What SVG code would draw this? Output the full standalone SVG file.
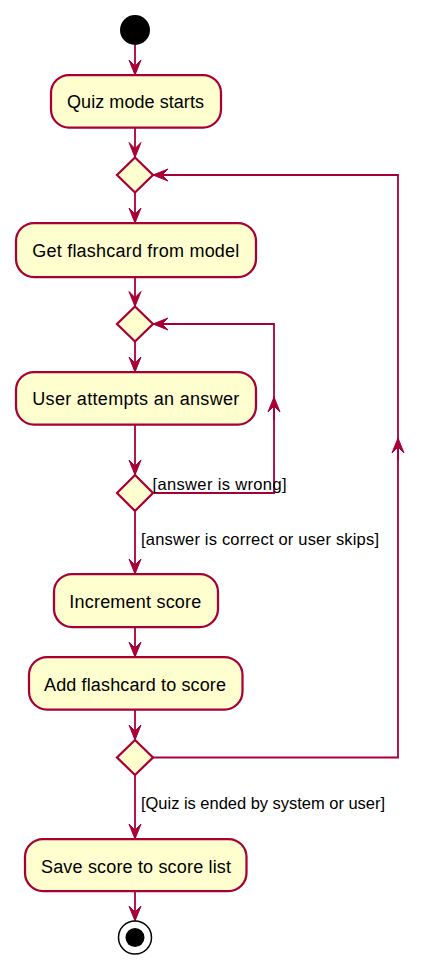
<svg xmlns="http://www.w3.org/2000/svg" width="435" height="969" viewBox="0 0 435 969">
<defs>
<style>
.node{fill:#FEFECE;stroke:#A80036;stroke-width:2.25}
.t{font-family:"Liberation Sans",Arial,sans-serif;font-size:18px;fill:#000;text-anchor:middle}
.lbl{font-family:"Liberation Sans",Arial,sans-serif;font-size:16.5px;fill:#000}
.c{fill:none;stroke:#A80036;stroke-width:1.8}
</style>
<marker id="ah" viewBox="-16 -8 17 16" markerWidth="17" markerHeight="16" refX="0" refY="0" orient="auto" markerUnits="userSpaceOnUse" overflow="visible">
<polygon points="0,0 -15,-6 -9,0 -15,6" fill="#A80036" stroke="#A80036" stroke-width="1"/>
</marker>
</defs>
<rect width="435" height="969" fill="#fff"/>
<g id="connectors">
<path class="c" d="M135,45 V75" marker-end="url(#ah)"/>
<path class="c" d="M135,128 V157.5" marker-end="url(#ah)"/>
<path class="c" d="M135,193 V223" marker-end="url(#ah)"/>
<path class="c" d="M135,277 V306.5" marker-end="url(#ah)"/>
<path class="c" d="M135,341.5 V372" marker-end="url(#ah)"/>
<path class="c" d="M135,424 V475" marker-end="url(#ah)"/>
<path class="c" d="M153,493 H274 V324 H153" marker-end="url(#ah)"/>
<path class="c" d="M274,420 V397" marker-end="url(#ah)"/>
<path class="c" d="M135,511 V574" marker-end="url(#ah)"/>
<path class="c" d="M135,627 V657" marker-end="url(#ah)"/>
<path class="c" d="M135,709 V740" marker-end="url(#ah)"/>
<path class="c" d="M153,757.5 H398 V175 H153" marker-end="url(#ah)"/>
<path class="c" d="M398,460 V438" marker-end="url(#ah)"/>
<path class="c" d="M135,775 V839" marker-end="url(#ah)"/>
<path class="c" d="M135,891 V921" marker-end="url(#ah)"/>
<text class="lbl" x="152.5" y="490" textLength="134" lengthAdjust="spacing">[answer is wrong]</text>
<text class="lbl" x="141" y="545" textLength="238" lengthAdjust="spacing">[answer is correct or user skips]</text>
<text class="lbl" x="141" y="809" textLength="244" lengthAdjust="spacing">[Quiz is ended by system or user]</text>
</g>
<g id="start"><circle cx="135" cy="30" r="15" fill="#000"/></g>
<g id="n1"><rect class="node" x="51" y="75" width="170" height="52.5" rx="18"/><text class="t" x="135.5" y="108" textLength="137" lengthAdjust="spacing">Quiz mode starts</text></g>
<g id="d1"><polygon class="node" points="135,157.5 153,175 135,192.5 117,175"/></g>
<g id="n2"><rect class="node" x="16" y="223" width="240" height="54" rx="18"/><text class="t" x="135.8" y="257" textLength="207" lengthAdjust="spacing">Get flashcard from model</text></g>
<g id="d2"><polygon class="node" points="135,306.5 153,324 135,341.5 117,324"/></g>
<g id="n3"><rect class="node" x="16" y="372" width="240" height="52.5" rx="18"/><text class="t" x="135.8" y="405" textLength="207" lengthAdjust="spacing">User attempts an answer</text></g>
<g id="d3"><polygon class="node" points="135,475 153,493 135,511 117,493"/></g>
<g id="n4"><rect class="node" x="54" y="574" width="164" height="53" rx="18"/><text class="t" x="135.3" y="608" textLength="132" lengthAdjust="spacing">Increment score</text></g>
<g id="n5"><rect class="node" x="29" y="657" width="213.5" height="52.5" rx="18"/><text class="t" x="135" y="690.5" textLength="182" lengthAdjust="spacing">Add flashcard to score</text></g>
<g id="d4"><polygon class="node" points="135,740 153,757.5 135,775 117,757.5"/></g>
<g id="n6"><rect class="node" x="25" y="839" width="221.5" height="52" rx="18"/><text class="t" x="136" y="872.5" textLength="190" lengthAdjust="spacing">Save score to score list</text></g>
<g id="end"><circle cx="135" cy="937.5" r="16.5" fill="#fff" stroke="#000" stroke-width="1.5"/><circle cx="135" cy="937.5" r="9.5" fill="#000"/></g>
</svg>
